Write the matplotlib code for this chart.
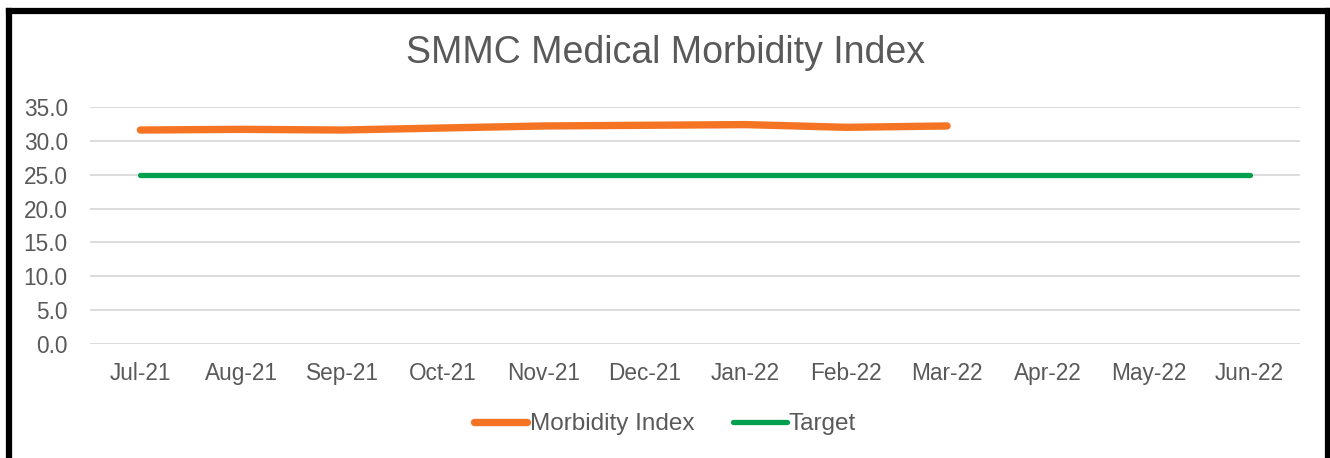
import matplotlib
matplotlib.use("Agg")
import matplotlib.pyplot as plt
from matplotlib.lines import Line2D

months = ["Jul-21", "Aug-21", "Sep-21", "Oct-21", "Nov-21", "Dec-21",
          "Jan-22", "Feb-22", "Mar-22", "Apr-22", "May-22", "Jun-22"]
morbidity = [31.6, 31.7, 31.6, 31.9, 32.2, 32.3, 32.4, 32.0, 32.2]
target = [25.0] * 12
yticks = [0, 5, 10, 15, 20, 25, 30, 35]

plt.rcParams['font.family'] = ['Liberation Sans', 'DejaVu Sans']
W, H = 1330, 458
fig = plt.figure(figsize=(W / 100, H / 100), dpi=100)
fig.patch.set_facecolor('white')

ax = fig.add_axes([90 / W, 1 - 344 / H, (1300 - 90) / W, (344 - 107) / H])
x_all = list(range(len(months)))
ax.plot(x_all[:len(morbidity)], morbidity, color='#F47424', lw=5.3,
        solid_capstyle='round', solid_joinstyle='round', zorder=3, label='Morbidity Index')
ax.plot(x_all, target, color='#00A04E', lw=3.8,
        solid_capstyle='round', zorder=3, label='Target')

ax.set_xlim(-0.5, len(months) - 0.5)
ax.set_ylim(0, 35)
ax.set_yticks(yticks)
ax.set_yticklabels([f"{v:.1f}" for v in yticks])
ax.set_xticks(x_all)
ax.set_xticklabels(months)
ax.tick_params(axis='both', length=0, labelsize=16.3, colors='#595959')
ax.tick_params(axis='x', pad=13)
ax.tick_params(axis='y', pad=16)
ax.grid(axis='y', color='#D9D9D9', lw=1.3)
ax.set_axisbelow(True)
for s in ax.spines.values():
    s.set_visible(False)

fig.text(0.5, 1 - 53 / H, "SMMC Medical Morbidity Index", ha='center', va='center',
         fontsize=27, color='#595959')

handles = [Line2D([0], [0], color='#F47424', lw=5.3, solid_capstyle='round'),
           Line2D([0], [0], color='#00A04E', lw=3.8, solid_capstyle='round')]
fig.legend(handles, ['Morbidity Index', 'Target'], loc='center',
           bbox_to_anchor=(0.5, 1 - 424 / H), ncol=2, frameon=False,
           fontsize=17.5, labelcolor='#595959', handlelength=2.2,
           handletextpad=0.1, columnspacing=1.6)

# outer frame
fig.add_artist(Line2D([9 / W, 9 / W], [0, 1 - 10.5 / H], transform=fig.transFigure,
                      color='black', lw=4.5, solid_capstyle='projecting'))
fig.add_artist(Line2D([9 / W, 1328 / W], [1 - 10.5 / H, 1 - 10.5 / H], transform=fig.transFigure,
                      color='black', lw=4.5, solid_capstyle='projecting'))
fig.add_artist(Line2D([1328 / W, 1328 / W], [0, 1 - 10.5 / H], transform=fig.transFigure,
                      color='black', lw=4.5, solid_capstyle='projecting'))

fig.savefig("out.png", dpi=100, facecolor='white')
